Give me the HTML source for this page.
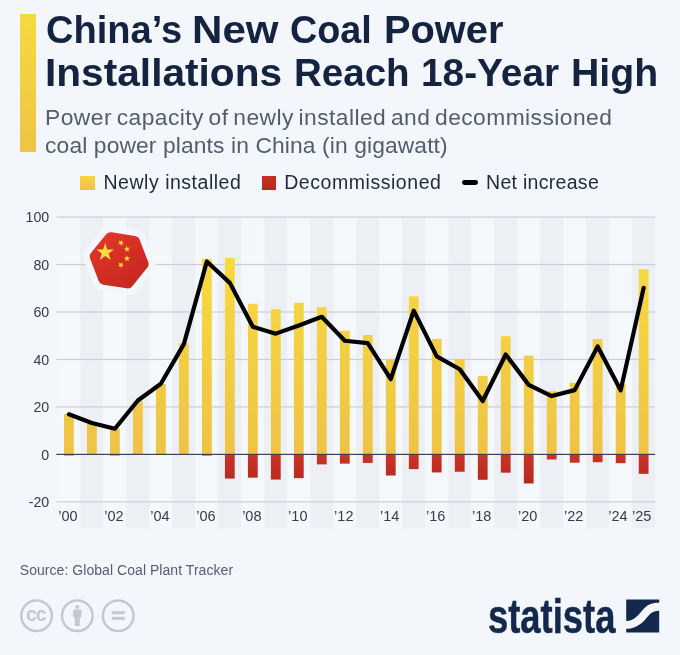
<!DOCTYPE html>
<html lang="en"><head><meta charset="utf-8"><title>China's New Coal Power Installations Reach 18-Year High</title>
<style>
html,body{margin:0;padding:0}
body{width:680px;height:655px;background:#f3f6fa;position:relative;overflow:hidden;font-family:"Liberation Sans",sans-serif}
.abs{position:absolute;white-space:nowrap}
#wrap{position:absolute;left:0;top:0;width:680px;height:655px;will-change:transform;opacity:0.999}
#accent{left:20px;top:14px;width:16px;height:138px;background:linear-gradient(#f7d93f,#edc446)}
.tw{transform-origin:0 0;font-weight:bold;font-size:39.5px;line-height:43px;color:#14233f}
#title .l2{letter-spacing:0.1px}
#sub{left:45.1px;top:104.3px;font-size:22.8px;line-height:27.7px;color:#525d6e;letter-spacing:0.44px;word-spacing:-2px}
#sub .l2{letter-spacing:0.12px;word-spacing:0}
.lg{font-size:19.5px;line-height:24px;top:170px;color:#1d2a40}
.ax{font:14.2px "Liberation Sans",sans-serif;fill:#343d4e}
.axx{font-size:14.5px}
#src{left:19.8px;top:559.8px;font-size:14px;line-height:20px;color:#556073;letter-spacing:0.05px}
#logo{left:488.4px;top:589.6px;font-weight:bold;font-size:48.5px;line-height:52px;color:#14284b;-webkit-text-stroke:0.5px #14284b;transform:scaleX(0.75);transform-origin:0 0;letter-spacing:0}
svg{position:absolute;left:0;top:0}
</style></head><body>
<div id="wrap">
<div id="accent" class="abs"></div>
<div id="title"><span class="abs tw" style="left:45.57px;top:7.6px;transform:scaleX(0.9638)">China’s</span> <span class="abs tw" style="left:192.1px;top:7.6px;transform:scaleX(1.0654)">New</span> <span class="abs tw" style="left:290.19px;top:7.6px;transform:scaleX(0.9556)">Coal</span> <span class="abs tw" style="left:384.18px;top:7.6px;transform:scaleX(1.0078)">Power</span> <span class="abs tw" style="left:45.11px;top:50.6px;transform:scaleX(1.0288)">Installations</span> <span class="abs tw" style="left:293.87px;top:50.6px;transform:scaleX(0.9752)">Reach</span> <span class="abs tw" style="left:420.73px;top:50.6px;transform:scaleX(0.9826)">18-Year</span> <span class="abs tw" style="left:570.77px;top:50.6px;transform:scaleX(0.9934)">High</span></div>
<div id="sub" class="abs">Power capacity of newly installed and decommissioned<br><span class="l2">coal power plants in China (in gigawatt)</span></div>
<div class="abs" style="left:80.4px;top:175.6px;width:14.5px;height:14.2px;background:linear-gradient(#f6d640,#edc344)"></div>
<div class="abs lg" style="left:103.5px;letter-spacing:0.52px">Newly installed</div>
<div class="abs" style="left:262px;top:175.6px;width:14.4px;height:14px;background:linear-gradient(#c63224,#b4291f)"></div>
<div class="abs lg" style="left:284.2px;letter-spacing:0.55px">Decommissioned</div>
<div class="abs" style="left:461.8px;top:180.2px;width:16.4px;height:4.9px;border-radius:2.45px;background:#000"></div>
<div class="abs lg" style="left:486px;letter-spacing:0.3px">Net increase</div>
<svg width="680" height="655" viewBox="0 0 680 655">
<defs>
<linearGradient id="gy" x1="0" y1="252.7" x2="0" y2="454.4" gradientUnits="userSpaceOnUse"><stop offset="0" stop-color="#f8da3f"/><stop offset="1" stop-color="#edc346"/></linearGradient>
<linearGradient id="gr" x1="0" y1="454.4" x2="0" y2="485.2" gradientUnits="userSpaceOnUse"><stop offset="0" stop-color="#cb3325"/><stop offset="1" stop-color="#b5291e"/></linearGradient>
<linearGradient id="gf" x1="100" y1="232" x2="135" y2="290" gradientUnits="userSpaceOnUse"><stop offset="0" stop-color="#e3352b"/><stop offset="1" stop-color="#c5271f"/></linearGradient>
</defs>
<rect x="57.40" y="217" width="22.99" height="311.3" fill="#f5f8fb"/>
<rect x="80.39" y="217" width="22.99" height="311.3" fill="#eceff4"/>
<rect x="103.38" y="217" width="22.99" height="311.3" fill="#f5f8fb"/>
<rect x="126.37" y="217" width="22.99" height="311.3" fill="#eceff4"/>
<rect x="149.36" y="217" width="22.99" height="311.3" fill="#f5f8fb"/>
<rect x="172.35" y="217" width="22.99" height="311.3" fill="#eceff4"/>
<rect x="195.34" y="217" width="22.99" height="311.3" fill="#f5f8fb"/>
<rect x="218.33" y="217" width="22.99" height="311.3" fill="#eceff4"/>
<rect x="241.32" y="217" width="22.99" height="311.3" fill="#f5f8fb"/>
<rect x="264.31" y="217" width="22.99" height="311.3" fill="#eceff4"/>
<rect x="287.30" y="217" width="22.99" height="311.3" fill="#f5f8fb"/>
<rect x="310.29" y="217" width="22.99" height="311.3" fill="#eceff4"/>
<rect x="333.28" y="217" width="22.99" height="311.3" fill="#f5f8fb"/>
<rect x="356.27" y="217" width="22.99" height="311.3" fill="#eceff4"/>
<rect x="379.26" y="217" width="22.99" height="311.3" fill="#f5f8fb"/>
<rect x="402.25" y="217" width="22.99" height="311.3" fill="#eceff4"/>
<rect x="425.24" y="217" width="22.99" height="311.3" fill="#f5f8fb"/>
<rect x="448.23" y="217" width="22.99" height="311.3" fill="#eceff4"/>
<rect x="471.22" y="217" width="22.99" height="311.3" fill="#f5f8fb"/>
<rect x="494.21" y="217" width="22.99" height="311.3" fill="#eceff4"/>
<rect x="517.20" y="217" width="22.99" height="311.3" fill="#f5f8fb"/>
<rect x="540.19" y="217" width="22.99" height="311.3" fill="#eceff4"/>
<rect x="563.18" y="217" width="22.99" height="311.3" fill="#f5f8fb"/>
<rect x="586.17" y="217" width="22.99" height="311.3" fill="#eceff4"/>
<rect x="609.16" y="217" width="22.99" height="311.3" fill="#f5f8fb"/>
<rect x="632.15" y="217" width="22.99" height="311.3" fill="#eceff4"/>
<rect x="56.40" y="216.50" width="598.74" height="1.2" fill="#cbcfd6"/>
<rect x="56.40" y="263.95" width="598.74" height="1.2" fill="#cbcfd6"/>
<rect x="56.40" y="311.40" width="598.74" height="1.2" fill="#cbcfd6"/>
<rect x="56.40" y="358.85" width="598.74" height="1.2" fill="#cbcfd6"/>
<rect x="56.40" y="406.30" width="598.74" height="1.2" fill="#cbcfd6"/>
<rect x="56.40" y="501.20" width="598.74" height="1.2" fill="#cbcfd6"/>
<rect x="64.00" y="414.07" width="9.8" height="40.33" fill="url(#gy)"/>
<rect x="64.00" y="454.40" width="9.8" height="1.07" fill="#8f5a1e"/>
<rect x="86.99" y="424.03" width="9.8" height="30.37" fill="url(#gy)"/>
<rect x="109.98" y="428.54" width="9.8" height="25.86" fill="url(#gy)"/>
<rect x="109.98" y="454.40" width="9.8" height="1.07" fill="#8f5a1e"/>
<rect x="132.97" y="401.26" width="9.8" height="53.14" fill="url(#gy)"/>
<rect x="155.96" y="383.94" width="9.8" height="70.46" fill="url(#gy)"/>
<rect x="178.95" y="343.13" width="9.8" height="111.27" fill="url(#gy)"/>
<rect x="201.94" y="258.67" width="9.8" height="195.73" fill="url(#gy)"/>
<rect x="201.94" y="454.40" width="9.8" height="1.19" fill="#8f5a1e"/>
<rect x="224.93" y="257.96" width="9.8" height="196.44" fill="url(#gy)"/>
<rect x="224.93" y="454.40" width="9.8" height="24.20" fill="url(#gr)"/>
<rect x="247.92" y="303.75" width="9.8" height="150.65" fill="url(#gy)"/>
<rect x="247.92" y="454.40" width="9.8" height="23.25" fill="url(#gr)"/>
<rect x="270.91" y="309.20" width="9.8" height="145.20" fill="url(#gy)"/>
<rect x="270.91" y="454.40" width="9.8" height="25.15" fill="url(#gr)"/>
<rect x="293.90" y="302.80" width="9.8" height="151.60" fill="url(#gy)"/>
<rect x="293.90" y="454.40" width="9.8" height="23.73" fill="url(#gr)"/>
<rect x="316.89" y="307.30" width="9.8" height="147.09" fill="url(#gy)"/>
<rect x="316.89" y="454.40" width="9.8" height="9.96" fill="url(#gr)"/>
<rect x="339.88" y="330.79" width="9.8" height="123.61" fill="url(#gy)"/>
<rect x="339.88" y="454.40" width="9.8" height="9.25" fill="url(#gr)"/>
<rect x="362.87" y="335.06" width="9.8" height="119.34" fill="url(#gy)"/>
<rect x="362.87" y="454.40" width="9.8" height="8.54" fill="url(#gr)"/>
<rect x="385.86" y="359.03" width="9.8" height="95.37" fill="url(#gy)"/>
<rect x="385.86" y="454.40" width="9.8" height="21.12" fill="url(#gr)"/>
<rect x="408.85" y="296.39" width="9.8" height="158.01" fill="url(#gy)"/>
<rect x="408.85" y="454.40" width="9.8" height="14.71" fill="url(#gr)"/>
<rect x="431.84" y="338.86" width="9.8" height="115.54" fill="url(#gy)"/>
<rect x="431.84" y="454.40" width="9.8" height="18.03" fill="url(#gr)"/>
<rect x="454.83" y="359.26" width="9.8" height="95.14" fill="url(#gy)"/>
<rect x="454.83" y="454.40" width="9.8" height="17.32" fill="url(#gr)"/>
<rect x="477.82" y="375.87" width="9.8" height="78.53" fill="url(#gy)"/>
<rect x="477.82" y="454.40" width="9.8" height="25.39" fill="url(#gr)"/>
<rect x="500.81" y="336.25" width="9.8" height="118.15" fill="url(#gy)"/>
<rect x="500.81" y="454.40" width="9.8" height="18.27" fill="url(#gr)"/>
<rect x="523.80" y="355.70" width="9.8" height="98.70" fill="url(#gy)"/>
<rect x="523.80" y="454.40" width="9.8" height="29.06" fill="url(#gr)"/>
<rect x="546.79" y="391.29" width="9.8" height="63.11" fill="url(#gy)"/>
<rect x="546.79" y="454.40" width="9.8" height="5.10" fill="url(#gr)"/>
<rect x="569.78" y="382.75" width="9.8" height="71.65" fill="url(#gy)"/>
<rect x="569.78" y="454.40" width="9.8" height="8.30" fill="url(#gr)"/>
<rect x="592.77" y="339.10" width="9.8" height="115.30" fill="url(#gy)"/>
<rect x="592.77" y="454.40" width="9.8" height="7.83" fill="url(#gr)"/>
<rect x="615.76" y="383.94" width="9.8" height="70.46" fill="url(#gy)"/>
<rect x="615.76" y="454.40" width="9.8" height="8.78" fill="url(#gr)"/>
<rect x="638.75" y="269.11" width="9.8" height="185.29" fill="url(#gy)"/>
<rect x="638.75" y="454.40" width="9.8" height="19.45" fill="url(#gr)"/>
<rect x="56.40" y="453.80" width="598.74" height="1.2" fill="#3b4354"/>
<polyline points="68.90,414.30 91.89,423.08 114.88,428.78 137.87,400.54 160.86,383.70 183.85,344.08 206.84,261.52 229.83,282.87 252.82,326.76 275.81,333.64 298.80,325.57 321.79,316.79 344.78,340.76 367.77,343.13 390.76,379.19 413.75,310.63 436.74,356.42 459.73,369.23 482.72,401.02 505.71,354.52 528.70,384.89 551.69,396.04 574.68,390.11 597.67,346.45 620.66,390.34 643.65,287.85" fill="none" stroke="#000" stroke-width="4.2" stroke-linejoin="round" stroke-linecap="round"/>
<text x="49.2" y="222.45" text-anchor="end" class="ax">100</text>
<text x="49.2" y="269.90" text-anchor="end" class="ax">80</text>
<text x="49.2" y="317.35" text-anchor="end" class="ax">60</text>
<text x="49.2" y="364.80" text-anchor="end" class="ax">40</text>
<text x="49.2" y="412.25" text-anchor="end" class="ax">20</text>
<text x="49.2" y="459.70" text-anchor="end" class="ax">0</text>
<text x="49.2" y="507.15" text-anchor="end" class="ax">-20</text>
<text x="67.90" y="521.3" text-anchor="middle" class="ax axx">’00</text>
<text x="113.88" y="521.3" text-anchor="middle" class="ax axx">’02</text>
<text x="159.86" y="521.3" text-anchor="middle" class="ax axx">’04</text>
<text x="205.84" y="521.3" text-anchor="middle" class="ax axx">’06</text>
<text x="251.82" y="521.3" text-anchor="middle" class="ax axx">’08</text>
<text x="297.80" y="521.3" text-anchor="middle" class="ax axx">’10</text>
<text x="343.78" y="521.3" text-anchor="middle" class="ax axx">’12</text>
<text x="389.76" y="521.3" text-anchor="middle" class="ax axx">’14</text>
<text x="435.74" y="521.3" text-anchor="middle" class="ax axx">’16</text>
<text x="481.72" y="521.3" text-anchor="middle" class="ax axx">’18</text>
<text x="527.70" y="521.3" text-anchor="middle" class="ax axx">’20</text>
<text x="573.68" y="521.3" text-anchor="middle" class="ax axx">’22</text>
<text x="617.96" y="521.3" text-anchor="middle" class="ax axx">’24</text>
<text x="641.65" y="521.3" text-anchor="middle" class="ax axx">’25</text>
<polygon points="146.31,264.60 129.01,285.97 101.84,281.67 91.99,256.00 109.29,234.63 136.46,238.93" fill="#f4f7fa" stroke="#f4f7fa" stroke-width="18" stroke-linejoin="round"/>
<polygon points="142.56,264.01 127.64,282.43 104.24,278.72 95.74,256.59 110.66,238.17 134.06,241.88" fill="url(#gf)" stroke="url(#gf)" stroke-width="12" stroke-linejoin="round"/>
<polygon points="105.20,243.10 107.29,249.53 114.04,249.53 108.58,253.50 110.67,259.92 105.20,255.95 99.73,259.92 101.82,253.50 96.36,249.53 103.11,249.53" fill="#fbe03c"/>
<polygon points="122.60,239.96 122.09,242.37 124.23,243.61 121.77,243.87 121.26,246.28 120.25,244.02 117.79,244.28 119.63,242.63 118.62,240.37 120.76,241.61" fill="#fbe03c"/>
<polygon points="126.41,245.75 127.57,247.93 130.00,247.50 128.29,249.28 129.45,251.46 127.23,250.38 125.51,252.16 125.85,249.71 123.63,248.63 126.07,248.20" fill="#fbe03c"/>
<polygon points="127.00,255.20 127.76,257.55 130.23,257.55 128.24,259.00 129.00,261.35 127.00,259.90 125.00,261.35 125.76,259.00 123.77,257.55 126.24,257.55" fill="#fbe03c"/>
<polygon points="122.60,262.06 122.09,264.47 124.23,265.71 121.77,265.97 121.26,268.38 120.25,266.12 117.79,266.38 119.63,264.73 118.62,262.47 120.76,263.71" fill="#fbe03c"/>
<!-- cc icons -->
<g fill="none" stroke="#c4c9d1" stroke-width="2.5">
<circle cx="36.6" cy="615.8" r="15.3"/><circle cx="77.3" cy="615.8" r="15.3"/><circle cx="118.2" cy="615.8" r="15.3"/>
</g>
<text x="35.7" y="620.9" text-anchor="middle" style="font:bold 19.5px 'Liberation Sans',sans-serif;fill:#c4c9d1;letter-spacing:-1.2px">cc</text>
<g fill="#c4c9d1">
<circle cx="77.3" cy="606.9" r="1.9"/>
<rect x="73.2" y="609.6" width="8.2" height="8" rx="1"/>
<rect x="74.8" y="616" width="5" height="10"/>
<rect x="111.8" y="611.2" width="12.9" height="3"/>
<rect x="111.8" y="616.9" width="12.9" height="3"/>
</g>
<!-- statista mark -->
<g transform="translate(626.2,599.5)" fill="#14284b">
<path d="M0 0H33V3.3C26 3.3 22 5 18.8 8.1C15 12 13 15 10 17.5C7 20 4 21.4 0 21.4Z"/>
<path d="M0 33V29.3C4 29.3 7 28.8 10 27C13.5 25 15 24 17 22.2C20 19 22 16.5 24.1 14.3C26.5 12 29 11.2 33 11.2V33Z"/>
</g>
</svg>
<div id="logo" class="abs">statista</div>
<div id="src" class="abs">Source: Global Coal Plant Tracker</div>
</div>
</body></html>
